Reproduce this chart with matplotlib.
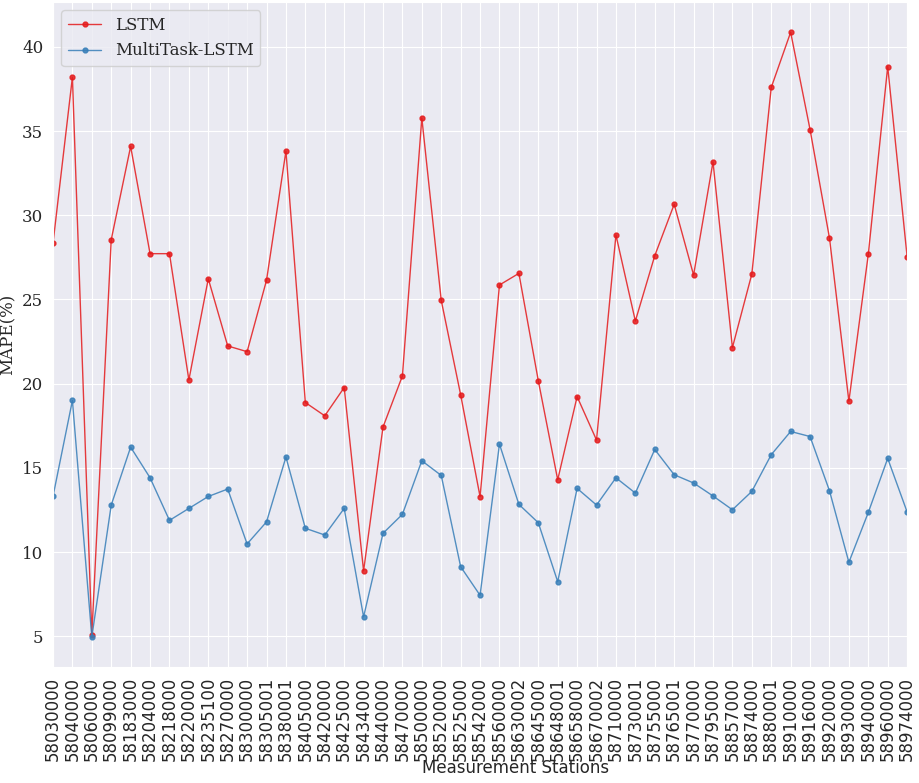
import matplotlib
matplotlib.use("Agg")
import matplotlib.pyplot as plt
import seaborn as sns
import numpy as np

stations = ["58030000", "58040000", "58060000", "58099000", "58183000", "58204000",
            "58218000", "58220000", "58235100", "58270000", "58300000", "58305001",
            "58380001", "58405000", "58420000", "58425000", "58434000", "58440000",
            "58470000", "58500000", "58520000", "58525000", "58542000", "58560000",
            "58630002", "58645000", "58648001", "58658000", "58670002", "58710000",
            "58730001", "58755000", "58765001", "58770000", "58795000", "58857000",
            "58874000", "58880001", "58910000", "58916000", "58920000", "58930000",
            "58940000", "58960000", "58974000"]

lstm_mape = [28.33, 38.2, 5.1, 28.55, 34.09, 27.72, 27.72, 20.22, 26.23, 22.24,
             21.9, 26.14, 33.81, 18.88, 18.09, 19.77, 8.88, 17.42, 20.46, 35.78,
             24.95, 19.34, 13.29, 25.86, 26.55, 20.18, 14.29, 19.23, 16.65, 28.83,
             23.72, 27.6, 30.65, 26.45, 33.17, 22.14, 26.51, 37.59, 40.87, 35.09,
             28.65, 18.96, 27.68, 38.83, 27.54]

mtl_mape = [13.3, 19.0, 4.96, 12.79, 16.23, 14.41, 11.88, 12.59, 13.3, 13.74,
            10.48, 11.79, 15.64, 11.41, 11.01, 12.59, 6.15, 11.11, 12.24, 15.42,
            14.55, 9.13, 7.43, 16.41, 12.83, 11.74, 8.24, 13.78, 12.79, 14.41,
            13.5, 16.09, 14.59, 14.1, 13.33, 12.51, 13.6, 15.78, 17.16, 16.86,
            13.64, 9.39, 12.35, 15.56, 12.38]

sns.set_style("darkgrid")
plt.rcParams["font.family"] = ["DejaVu Serif"]

colors = sns.color_palette("Set1")
x = np.arange(len(stations))

fig = plt.figure(figsize=(9.2, 7.83), dpi=100)
ax = fig.add_axes([0.0576, 0.148, 0.9284, 0.8494])

ax.plot(x, lstm_mape, marker="o", markersize=3.5, linewidth=1.0,
        color=colors[0], alpha=0.85, label="LSTM")
ax.plot(x, mtl_mape, marker="o", markersize=3.5, linewidth=1.0,
        color=colors[1], alpha=0.85, label="MultiTask-LSTM")

ax.set_xlim(x[0], x[-1])
ax.set_xticks(x)
ax.set_xticklabels(stations, rotation=90, fontsize=12, family="DejaVu Sans")
ax.tick_params(axis="y", labelsize=12)
ax.set_yticks([5, 10, 15, 20, 25, 30, 35, 40])

ax.set_ylabel("MAPE(%)", fontsize=12)
ax.set_xlabel("Measurement Stations", fontsize=12, family="DejaVu Sans")
ax.xaxis.set_label_coords(0.541, -0.138)

ax.legend(loc="upper left", fontsize=12)

fig.savefig("out.png", dpi=100)
